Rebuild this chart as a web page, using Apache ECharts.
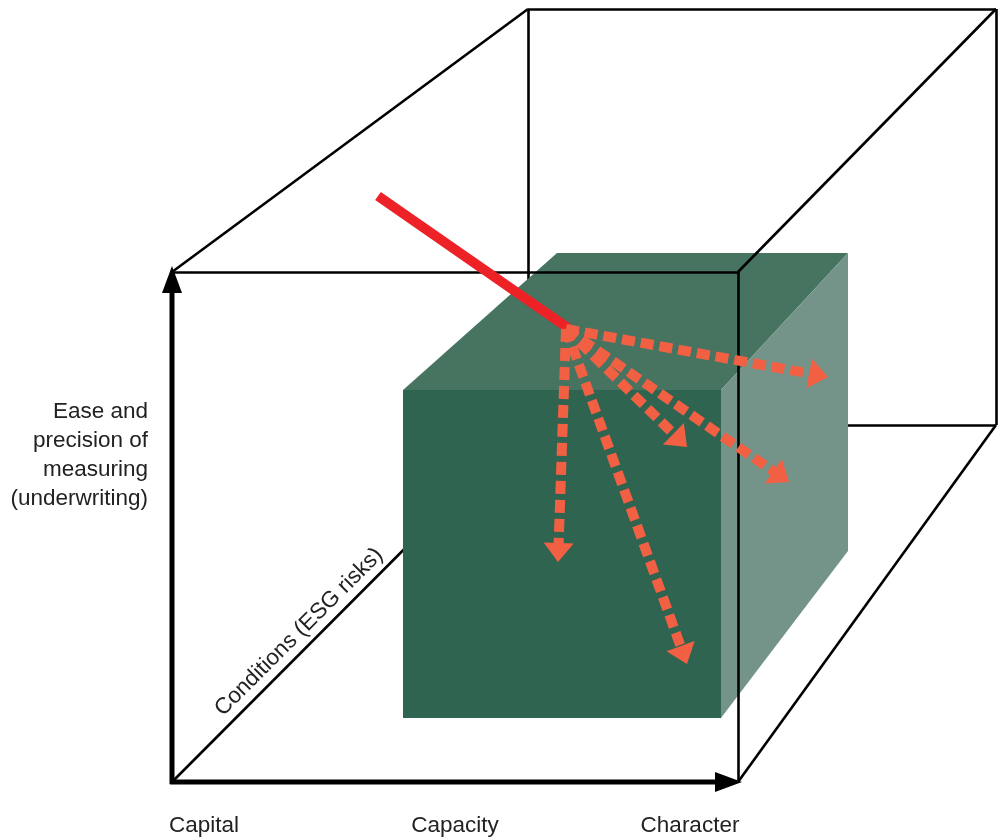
<!DOCTYPE html>
<html><head><meta charset="utf-8">
<script src="https://cdn.jsdelivr.net/npm/echarts@6/dist/echarts.min.js"></script>
<style>html,body{margin:0;padding:0;background:#fff}#c{width:998px;height:839px}</style>
</head><body><div id="c"></div>
<script>
// ---- data (diagram geometry in chart units: x 0..998, y 0..839 downward) ----
const backEdges = [[[528,9],[528,425]], [[528,425],[996,425]], [[172,782],[528,425]]];
const frontEdges = [[[172,272],[738,272]], [[738,272],[738,782]], [[172,272],[528,9]],
                    [[738,272],[996,9]], [[738,782],[996,425]], [[528,9],[996,9]], [[996,9],[996,425]]];
const cubeFront = [[403,390],[721,390],[721,718],[403,718]];
const cubeTop   = [[403,390],[557,253],[848,253],[721,390]];
const cubeSide  = [[721,390],[848,253],[848,551],[721,718]];
const cubeFaces = [cubeFront, cubeTop, cubeSide];
const faceColors = ['#2f6450', '#467461', '#74948a'];
const redBeam = [[378,196],[568,328]];
const dashOrigin = [566,329];
const dashTips = [[828,377],[687,447],[789,482],[558,562],[687,664]];
const axisArrows = [[[172,784],[172,266]], [[170,782],[742,782]]];
const yLabel = ['Ease and','precision of','measuring','(underwriting)'];
const xLabels = ['Capital','Capacity','Character'];
const depthLabel = 'Conditions (ESG risks)';

const FONT = '"Liberation Sans", Arial, sans-serif';
const FS = '22.5px ';
const chart = echarts.init(document.getElementById('c'));

function polyRender(params, api){
  const pts = cubeFaces[params.dataIndex].map(p => api.coord(p));
  return {type:'polygon', shape:{points:pts}, style:{fill:faceColors[params.dataIndex]}};
}
function arrowRender(list, opt){
  return function(params, api){
    const [s,t] = list[params.dataIndex];
    const p0 = api.coord(s), p1 = api.coord(t);
    const dx = p1[0]-p0[0], dy = p1[1]-p0[1], L = Math.hypot(dx,dy);
    const ux = dx/L, uy = dy/L, nx = -uy, ny = ux;
    const bx = p1[0]-ux*opt.head, by = p1[1]-uy*opt.head;
    return {type:'group', children:[
      {type:'line', shape:{x1:p0[0],y1:p0[1],x2:bx+ux*2,y2:by+uy*2},
       style:{stroke:opt.color, lineWidth:opt.width, lineDash:opt.dash, lineCap:'butt', fill:null}},
      {type:'polygon', shape:{points:[[p1[0],p1[1]],[bx+nx*opt.hw,by+ny*opt.hw],[bx-nx*opt.hw,by-ny*opt.hw]]},
       style:{fill:opt.color}}
    ]};
  };
}
const orangeArrows = dashTips.map(t => [dashOrigin, t]);

chart.setOption({
  animation:false,
  grid:{left:0,right:0,top:0,bottom:0},
  xAxis:{type:'value',min:0,max:998,show:false},
  yAxis:{type:'value',min:0,max:839,inverse:true,show:false},
  series:[
    {type:'lines', coordinateSystem:'cartesian2d', z:1, silent:true,
     data: backEdges.map(c => ({coords:c})), lineStyle:{color:'#000', width:2.6, opacity:1}},
    {type:'custom', z:2, silent:true, renderItem: polyRender,
     data: cubeFaces.map(f => f[0])},
    {type:'lines', coordinateSystem:'cartesian2d', z:3, silent:true,
     data: frontEdges.map(c => ({coords:c})), lineStyle:{color:'#000', width:2.6, opacity:1}},
    {type:'lines', coordinateSystem:'cartesian2d', z:4, silent:true,
     data: [{coords:redBeam}], lineStyle:{color:'#ec2227', width:10, opacity:1, cap:'butt'}},
    {type:'custom', z:5, silent:true,
     renderItem: arrowRender(orangeArrows, {color:'#f26044', width:10, dash:[13,6], head:19, hw:15}),
     data: orangeArrows.map(a => a[1])},
    {type:'custom', z:6, silent:true,
     renderItem: arrowRender(axisArrows, {color:'#000', width:5, dash:null, head:27, hw:10}),
     data: axisArrows.map(a => a[1])}
  ],
  graphic:[
    {type:'text', x:148, y:397, z:10, style:{text:yLabel.join('\n'), align:'right', verticalAlign:'top',
      font:FS+FONT, lineHeight:29, fill:'#222'}},
    {type:'text', x:204, y:826, z:10, style:{text:xLabels[0], align:'center', verticalAlign:'middle', font:FS+FONT, fill:'#222'}},
    {type:'text', x:455, y:826, z:10, style:{text:xLabels[1], align:'center', verticalAlign:'middle', font:FS+FONT, fill:'#222'}},
    {type:'text', x:690, y:826, z:10, style:{text:xLabels[2], align:'center', verticalAlign:'middle', font:FS+FONT, fill:'#222'}},
    {type:'text', x:299, y:632, rotation:Math.PI/4, z:10, style:{text:depthLabel, align:'center', verticalAlign:'middle', font:FS+FONT, fill:'#222'}}
  ]
});
</script></body></html>
